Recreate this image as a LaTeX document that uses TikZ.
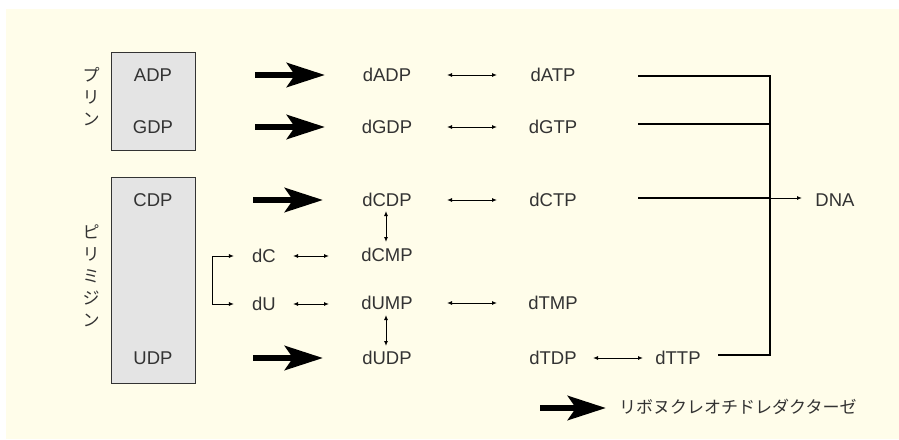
\documentclass[tikz,border=0pt]{standalone}
\usepackage{fontspec}
\setmainfont{Liberation Sans}
\newfontfamily\jpfont{Noto Sans CJK JP}
\usetikzlibrary{arrows.meta}
\definecolor{bgcream}{HTML}{FFFDEA}
\definecolor{boxgray}{HTML}{E4E4E4}
\definecolor{inkgray}{HTML}{333333}
\tikzset{
  lbl/.style={text=inkgray,font=\fontsize{18.5}{22}\selectfont,inner sep=1pt},
  jlbl/.style={text=inkgray,font=\jpfont\fontsize{17}{22}\selectfont,inner sep=1pt},
  enzyme/.style={line width=6.5pt,-{Stealth[length=38pt,width=24pt,inset=8pt]}},
  dbl/.style={line width=1pt,{Latex[length=5pt,width=4pt]}-{Latex[length=5pt,width=4pt]}},
  one/.style={line width=1pt,-{Latex[length=5pt,width=4pt]}},
  bus/.style={line width=1.3pt}
}
\begin{document}
\begin{tikzpicture}[x=1pt,y=-1pt]
  \fill[white] (0,0) rectangle (899,439);
  \fill[bgcream] (6,9) rectangle (899,439);
  \useasboundingbox (0,0) rectangle (899,439);
  % base boxes
  \draw[fill=boxgray,draw=inkgray,line width=1pt] (111,52) rectangle (195,150);
  \draw[fill=boxgray,draw=inkgray,line width=1pt] (111,177) rectangle (195,383);
  \node[jlbl,align=center] (purine) at (91,97) {プ\\リ\\ン};
  \node[jlbl,align=center] (pyrim) at (91,276) {ピ\\リ\\ミ\\ジ\\ン};
  \node[lbl] (ADP) at (153,75) {ADP};
  \node[lbl] (GDP) at (153,127) {GDP};
  \node[lbl] (CDP) at (153,200) {CDP};
  \node[lbl] (UDP) at (153,358) {UDP};
  % deoxy nucleotides
  \node[lbl] (dADP) at (387,75) {dADP};
  \node[lbl] (dATP) at (553,75) {dATP};
  \node[lbl] (dGDP) at (387,127) {dGDP};
  \node[lbl] (dGTP) at (553,127) {dGTP};
  \node[lbl] (dCDP) at (387,200) {dCDP};
  \node[lbl] (dCTP) at (553,200) {dCTP};
  \node[lbl] (dCMP) at (387,255) {dCMP};
  \node[lbl] (dUMP) at (387,303) {dUMP};
  \node[lbl] (dTMP) at (553,303) {dTMP};
  \node[lbl] (dUDP) at (387,358) {dUDP};
  \node[lbl] (dTDP) at (553,358) {dTDP};
  \node[lbl] (dTTP) at (678,358) {dTTP};
  \node[lbl] (dC) at (264,256) {dC};
  \node[lbl] (dU) at (264,304) {dU};
  \node[lbl] (DNA) at (835,200) {DNA};
  % reductase arrows
  \draw[enzyme] (255,75) -- (325,75);
  \draw[enzyme] (255,127) -- (325,127);
  \draw[enzyme] (253,200) -- (323,200);
  \draw[enzyme] (253,358) -- (323,358);
  % equilibria
  \draw[dbl] (447,75) -- (497,75);
  \draw[dbl] (447,127) -- (497,127);
  \draw[dbl] (447,200) -- (497,200);
  \draw[dbl] (447,303) -- (497,303);
  \draw[dbl] (593,358) -- (643,358);
  \draw[dbl] (293,256) -- (329,256);
  \draw[dbl] (293,304) -- (329,304);
  \draw[dbl] (386,211) -- (386,242);
  \draw[dbl] (386,315) -- (386,346);
  % salvage bracket
  \coordinate (brtop) at (212,256);
  \coordinate (brbot) at (212,304);
  \draw[line width=1pt] (brtop) -- (brbot);
  \draw[one] (brtop) -- ([xshift=-17pt]dC.west);
  \draw[one] (brbot) -- ([xshift=-17pt]dU.west);
  % to DNA
  \coordinate (bustop) at (770,76);
  \coordinate (busbot) at (770,355);
  \draw[bus] (638,76) -- (bustop) -- (busbot) -- (718,355);
  \draw[bus] (638,124) -- (770,124);
  \draw[bus] (638,198) -- (770,198);
  \draw[one] (770,198) -- (802,198);
  % legend
  \draw[enzyme] (540,408) -- (606,408);
  \node[jlbl,anchor=west] (legend) at (618,407) {リボヌクレオチドレダクターゼ};
\end{tikzpicture}
\end{document}
